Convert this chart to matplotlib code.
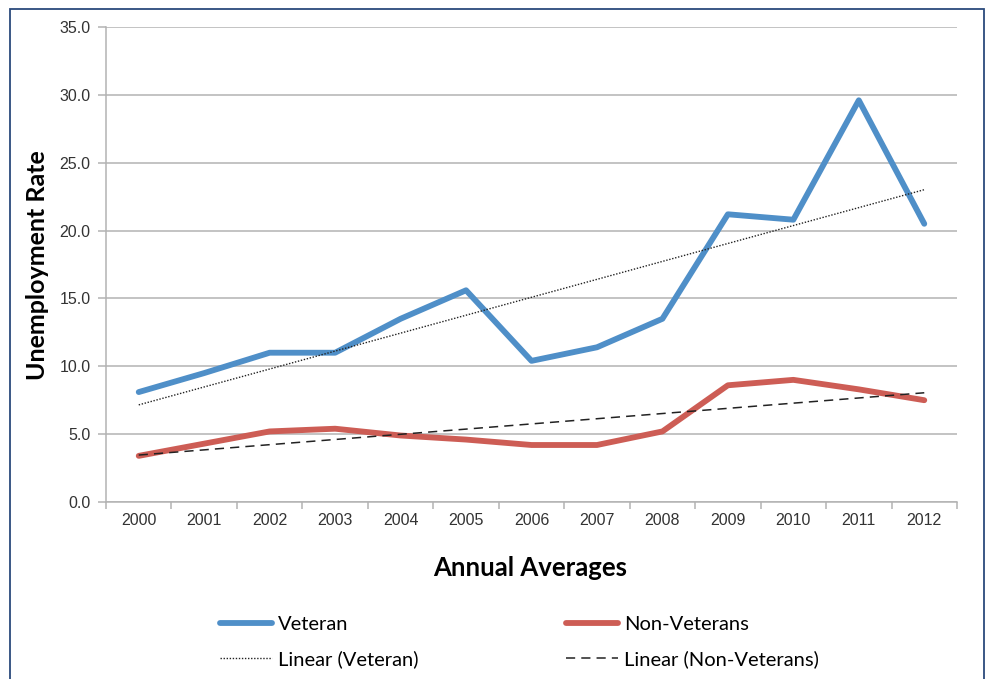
import numpy as np
import matplotlib

matplotlib.use("Agg")
import matplotlib.pyplot as plt
from matplotlib.patches import Rectangle

# annual averages, unemployment rate (%)
years = ["2000", "2001", "2002", "2003", "2004", "2005", "2006",
         "2007", "2008", "2009", "2010", "2011", "2012"]
veteran = [8.1, 9.5, 11.0, 11.0, 13.5, 15.6, 10.4, 11.4, 13.5, 21.2, 20.8, 29.6, 20.5]
non_veterans = [3.4, 4.3, 5.2, 5.4, 4.9, 4.6, 4.2, 4.2, 5.2, 8.6, 9.0, 8.3, 7.5]

blue = "#4f8fc8"
red = "#cd5d55"
grid = "#b3b3b3"

fig = plt.figure(figsize=(9.89, 6.79), dpi=100)
ax = fig.add_axes([106 / 989, 1 - 502 / 679, (957 - 106) / 989, (502 - 27) / 679])

x = np.arange(len(years))
ax.plot(x, veteran, color=blue, lw=4.2, solid_capstyle="round",
        solid_joinstyle="round", label="Veteran", zorder=3)
ax.plot(x, non_veterans, color=red, lw=4.2, solid_capstyle="round",
        solid_joinstyle="round", label="Non-Veterans", zorder=3)

# least squares trend lines
kv = np.polyfit(x, veteran, 1)
kn = np.polyfit(x, non_veterans, 1)
ax.plot(x, np.polyval(kv, x), color="#222222", lw=1.0, ls=(0, (1, 1.2)),
        label="Linear (Veteran)", zorder=4)
ax.plot(x, np.polyval(kn, x), color="#222222", lw=1.1, ls=(0, (6, 4)),
        label="Linear (Non-Veterans)", zorder=4)

ax.set_xlim(-0.5, len(years) - 0.5)
ax.set_ylim(0, 35)
ax.set_yticks(np.arange(0, 36, 5))
ax.set_yticklabels([f"{v:.1f}" for v in np.arange(0, 36, 5)])
ax.yaxis.grid(True, color=grid, lw=1.1)
ax.set_axisbelow(True)

# tick marks between categories, labels centred on them
ax.set_xticks(np.arange(-0.5, len(years), 1.0))
ax.set_xticklabels([])
ax.set_xticks(x, minor=True)
ax.set_xticklabels(years, minor=True)
ax.tick_params(axis="x", which="major", length=5, color=grid, width=1.1)
ax.tick_params(axis="x", which="minor", length=0, pad=8)
ax.tick_params(axis="y", length=6, color=grid, width=1.1, pad=5)
for lab in ax.get_xticklabels(minor=True) + ax.get_yticklabels():
    lab.set_fontfamily("Liberation Sans")
    lab.set_fontsize(11.5)
    lab.set_color("#333333")

for side in ("top", "right"):
    ax.spines[side].set_visible(False)
for side in ("left", "bottom"):
    ax.spines[side].set_color(grid)
    ax.spines[side].set_linewidth(1.1)

fig.text(38 / 989, 1 - 265 / 679, "Unemployment Rate", rotation=90,
         ha="center", va="center", fontsize=18, fontweight="bold",
         family="Lato")
fig.text(530 / 989, 1 - 568 / 679, "Annual Averages", ha="center",
         va="center", fontsize=18.5, fontweight="bold", family="Lato")

handles, labels = ax.get_legend_handles_labels()
order = [0, 2, 1, 3]
fig.legend([handles[i] for i in order], [labels[i] for i in order],
           ncol=2, loc="center left", bbox_to_anchor=(220 / 989, 1 - 642 / 679),
           frameon=False, borderpad=0, borderaxespad=0,
           handlelength=2.6, handletextpad=0.3,
           columnspacing=7.3, labelspacing=0.82,
           prop={"family": "Lato", "size": 14.5})

fig.patches.append(Rectangle((10 / 989, -0.05), 974 / 989, 1.05 - 9 / 679,
                             transform=fig.transFigure, fill=False,
                             edgecolor="#2b4a7c", lw=1.3))

fig.savefig("out.png", dpi=100)
